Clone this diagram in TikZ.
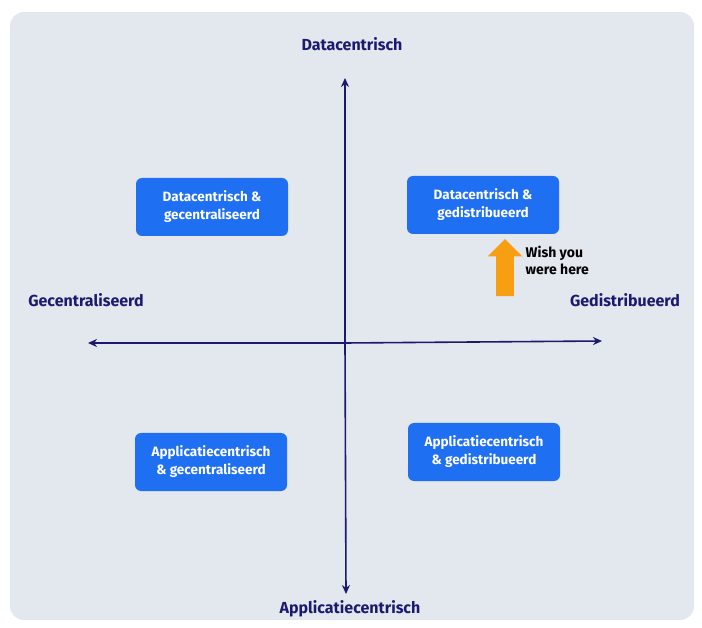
\documentclass[tikz,border=0pt]{standalone}
\usepackage{fontspec}
\setmainfont{Fira Sans}
\usetikzlibrary{arrows.meta,shapes.arrows}
\definecolor{panel}{HTML}{E3E7EE}
\definecolor{axis}{HTML}{1C1A6E}
\definecolor{quad}{HTML}{1E6FF1}
\definecolor{wish}{HTML}{F89E12}

\begin{document}
\begin{tikzpicture}[x=1pt,y=-1pt,>={Stealth[length=9pt,width=8pt]},
                    thick,quad box/.style={rounded corners=6pt,fill=quad,text=white,
                      minimum width=152pt,minimum height=58pt,align=center,
                      font=\fontsize{13.5}{18}\selectfont\bfseries},
                    axis label/.style={text=axis,font=\fontsize{16}{18}\selectfont\bfseries}]

  \useasboundingbox (0,0) rectangle (702,628);
  \fill[panel,rounded corners=14pt] (10,12) rectangle (694,620);

  % axes
  \coordinate (top) at (345,78);
  \coordinate (bottom) at (346,594);
  \coordinate (left) at (88,343);
  \coordinate (right) at (602,341);
  \coordinate (mid) at (345,343);

  \draw[->,axis,line width=1.6pt] (mid) -- (top);
  \draw[->,axis,line width=1.6pt] (mid) -- (bottom);
  \draw[->,axis,line width=1.6pt] (mid) -- (left);
  \draw[->,axis,line width=1.6pt] (mid) -- (right);

  \node[axis label] (dc) at (352,44) {Datacentrisch};
  \node[axis label] (ac) at (350,609) {Applicatiecentrisch};
  \node[axis label] (gc) at (86,300) {Gecentraliseerd};
  \node[axis label] (gd) at (625,300) {Gedistribueerd};

  % quadrants
  \node[quad box] (1) at (212,207) {Datacentrisch \&\\gecentraliseerd};
  \node[quad box] (2) at (483,205) {Datacentrisch \&\\gedistribueerd};
  \node[quad box] (3) at (211,462) {Applicatiecentrisch\\\& gecentraliseerd};
  \node[quad box] (4) at (484,452) {Applicatiecentrisch\\\& gedistribueerd};

  % wish
  \node[single arrow,fill=wish,shape border rotate=90,minimum height=57pt,
        minimum width=34pt,single arrow head extend=8.5pt,
        inner sep=8.5pt] (up) at (505,272) {};
  \node[anchor=west,align=left,font=\fontsize{14}{17}\selectfont\bfseries] (here) at (522,260) {Wish you\\were here};
\end{tikzpicture}
\end{document}
